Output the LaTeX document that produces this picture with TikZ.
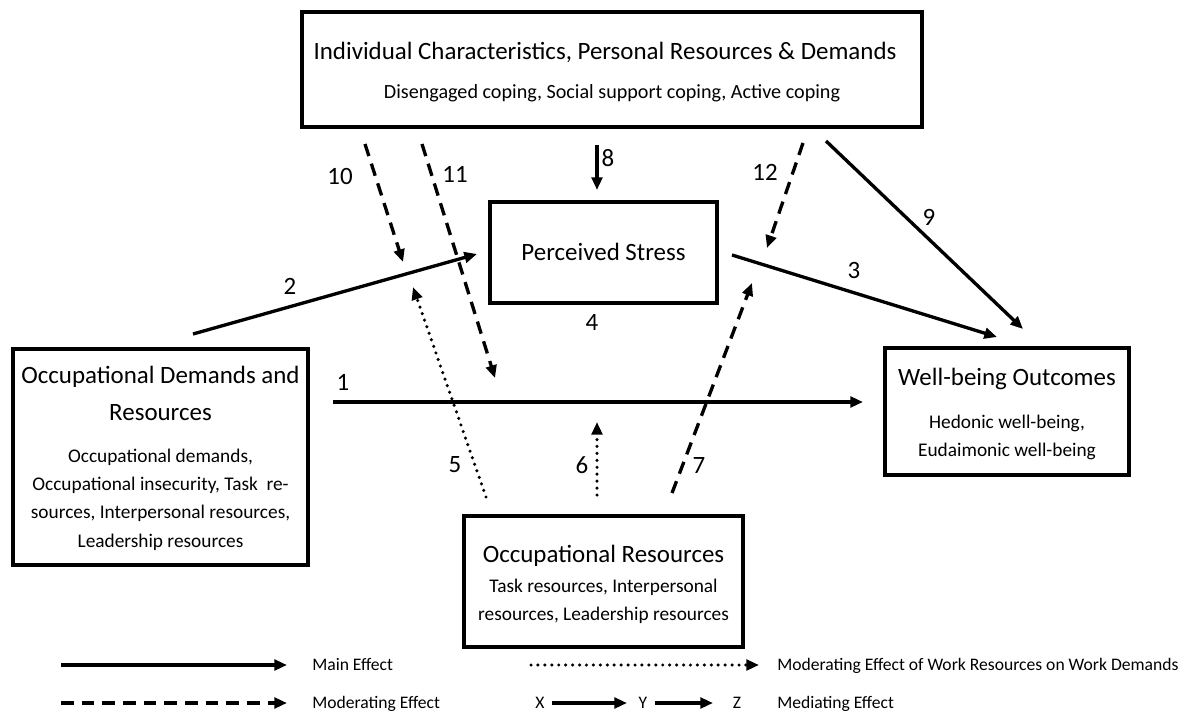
\documentclass[tikz,border=0pt]{standalone}
\usepackage{fontspec}
\setmainfont{Carlito}
\usetikzlibrary{arrows.meta}

\newcommand\tfont{\fontsize{18.7}{22}\selectfont}
\newcommand\sfont{\fontsize{14.5}{17}\selectfont}
\newcommand\bigsfont{\fontsize{15.1}{18}\selectfont}
\newcommand\lfont{\fontsize{13.2}{16}\selectfont}

\tikzset{
  box/.style={draw, line width=2.8pt, rectangle, inner sep=0pt},
  ttl/.style={anchor=base, inner sep=0pt, font=\tfont},
  sub/.style={anchor=base, inner sep=0pt, font=\sfont},
  num/.style={inner sep=0pt, font=\tfont},
  leg/.style={anchor=base west, inner sep=0pt, font=\lfont},
  tip/.style={-{Triangle[length=9.5pt,width=8pt]}},
  main/.style={tip, line width=2.5pt},
  moder/.style={tip, line width=2.5pt, dash pattern=on 9.5pt off 6pt},
  dotl/.style={tip, line width=2.6pt, line cap=round, dash pattern=on 0pt off 5.2pt},
}

\begin{document}
\begin{tikzpicture}[x=0.75pt,y=-0.75pt]
\useasboundingbox (0,0) rectangle (1194,713);

% ---- boxes ----
\node[box, minimum width=620*0.75pt, minimum height=115*0.75pt] (ind) at (612,69.5) {};
\node[ttl] (ind-t) at (605,60) {Individual Characteristics, Personal Resources \& Demands};
\node[sub, font=\bigsfont] (ind-s) at (612,99) {Disengaged coping, Social support coping, Active coping};

\node[box, minimum width=227*0.75pt, minimum height=101*0.75pt] (ps) at (603.5,252.5) {};
\node[ttl] (ps-t) at (603.5,260) {Perceived Stress};

\node[box, minimum width=295*0.75pt, minimum height=216*0.75pt] (odr) at (160.5,457) {};
\node[ttl] (odr-t1) at (160.5,383) {Occupational Demands and};
\node[ttl] (odr-t2) at (160.5,420) {Resources};
\node[sub] (odr-s1) at (160.5,462) {Occupational demands,};
\node[sub] (odr-s2) at (160.5,490) {Occupational insecurity, Task\ \ re-};
\node[sub] (odr-s3) at (160.5,518) {sources, Interpersonal resources,};
\node[sub] (odr-s4) at (160.5,547) {Leadership resources};

\node[box, minimum width=244*0.75pt, minimum height=127*0.75pt] (wb) at (1007,411.5) {};
\node[ttl] (wb-t) at (1007,385) {Well-being Outcomes};
\node[sub] (wb-s1) at (1007,428) {Hedonic well-being,};
\node[sub] (wb-s2) at (1007,456) {Eudaimonic well-being};

\node[box, minimum width=279*0.75pt, minimum height=131*0.75pt] (or) at (603.5,581.5) {};
\node[ttl] (or-t) at (603.5,562) {Occupational Resources};
\node[sub] (or-s1) at (603.5,592) {Task resources, Interpersonal};
\node[sub] (or-s2) at (603.5,620) {resources, Leadership resources};

% ---- connector end points ----
\coordinate (p1s) at (333,402);  \coordinate (p1e) at (863,402);
\coordinate (p2s) at (193,334);  \coordinate (p2e) at (477,254);
\coordinate (p3s) at (732,255);  \coordinate (p3e) at (997,337);
\coordinate (p9s) at (826,141);  \coordinate (p9e) at (1023,329);
\coordinate (p8s) at (597,145);  \coordinate (p8e) at (597,190);
\coordinate (p10s) at (365,144); \coordinate (p10e) at (403,262);
\coordinate (p11s) at (422,144); \coordinate (p11e) at (495,378);
\coordinate (p12s) at (803,143); \coordinate (p12e) at (767,248);
\coordinate (p5s) at (486,497);  \coordinate (p5e) at (413,287);
\coordinate (p6s) at (597,495);  \coordinate (p6e) at (597,422);
\coordinate (p7s) at (672,493);  \coordinate (p7e) at (752,283);

% ---- main effects ----
\draw[main] (p1s) -- (p1e);
\draw[main] (p2s) -- (p2e);
\draw[main] (p3s) -- (p3e);
\draw[main] (p9s) -- (p9e);
\draw[main] (p8s) -- (p8e);

% ---- moderating effects ----
\draw[moder] (p10s) -- (p10e);
\draw[moder] (p11s) -- (p11e);
\draw[moder] (p12s) -- (p12e);
\draw[moder] (p7s) -- (p7e);

% ---- work resources on work demands ----
\draw[dotl] (p5s) -- (p5e);
\draw[dotl] (p6s) -- (p6e);

% ---- path numbers ----
\node[num] (n1) at (343,382) {1};
\node[num] (n2) at (290,286) {2};
\node[num] (n3) at (854,270) {3};
\node[num] (n4) at (592,322) {4};
\node[num] (n5) at (455,465) {5};
\node[num] (n6) at (582,465) {6};
\node[num] (n7) at (699,465) {7};
\node[num] (n8) at (608,158) {8};
\node[num] (n9) at (929,217) {9};
\node[num] (n10) at (340,176) {10};
\node[num] (n11) at (455,174) {11};
\node[num] (n12) at (765,172) {12};

% ---- legend ----
\coordinate (l1s) at (61,665);  \coordinate (l1e) at (287,665);
\coordinate (l2s) at (61,703);  \coordinate (l2e) at (287,703);
\coordinate (l3s) at (531,665); \coordinate (l3e) at (759,665);
\coordinate (lxs) at (552,703); \coordinate (lxe) at (627,703);
\coordinate (lys) at (655,703); \coordinate (lye) at (713,703);
\draw[main] (l1s) -- (l1e);
\draw[moder] (l2s) -- (l2e);
\draw[dotl] (l3s) -- (l3e);
\draw[main] (lxs) -- (lxe);
\draw[main] (lys) -- (lye);
\node[leg] (lt1) at (312,670) {Main Effect};
\node[leg] (lt2) at (312,708) {Moderating Effect};
\node[leg] (lt3) at (777,670) {Moderating Effect of Work Resources on Work Demands};
\node[leg] (lt4) at (777,708) {Mediating Effect};
\node[leg, anchor=base] (lx) at (540,708) {X};
\node[leg, anchor=base] (ly) at (643,708) {Y};
\node[leg, anchor=base] (lz) at (737,708) {Z};
\end{tikzpicture}
\end{document}
